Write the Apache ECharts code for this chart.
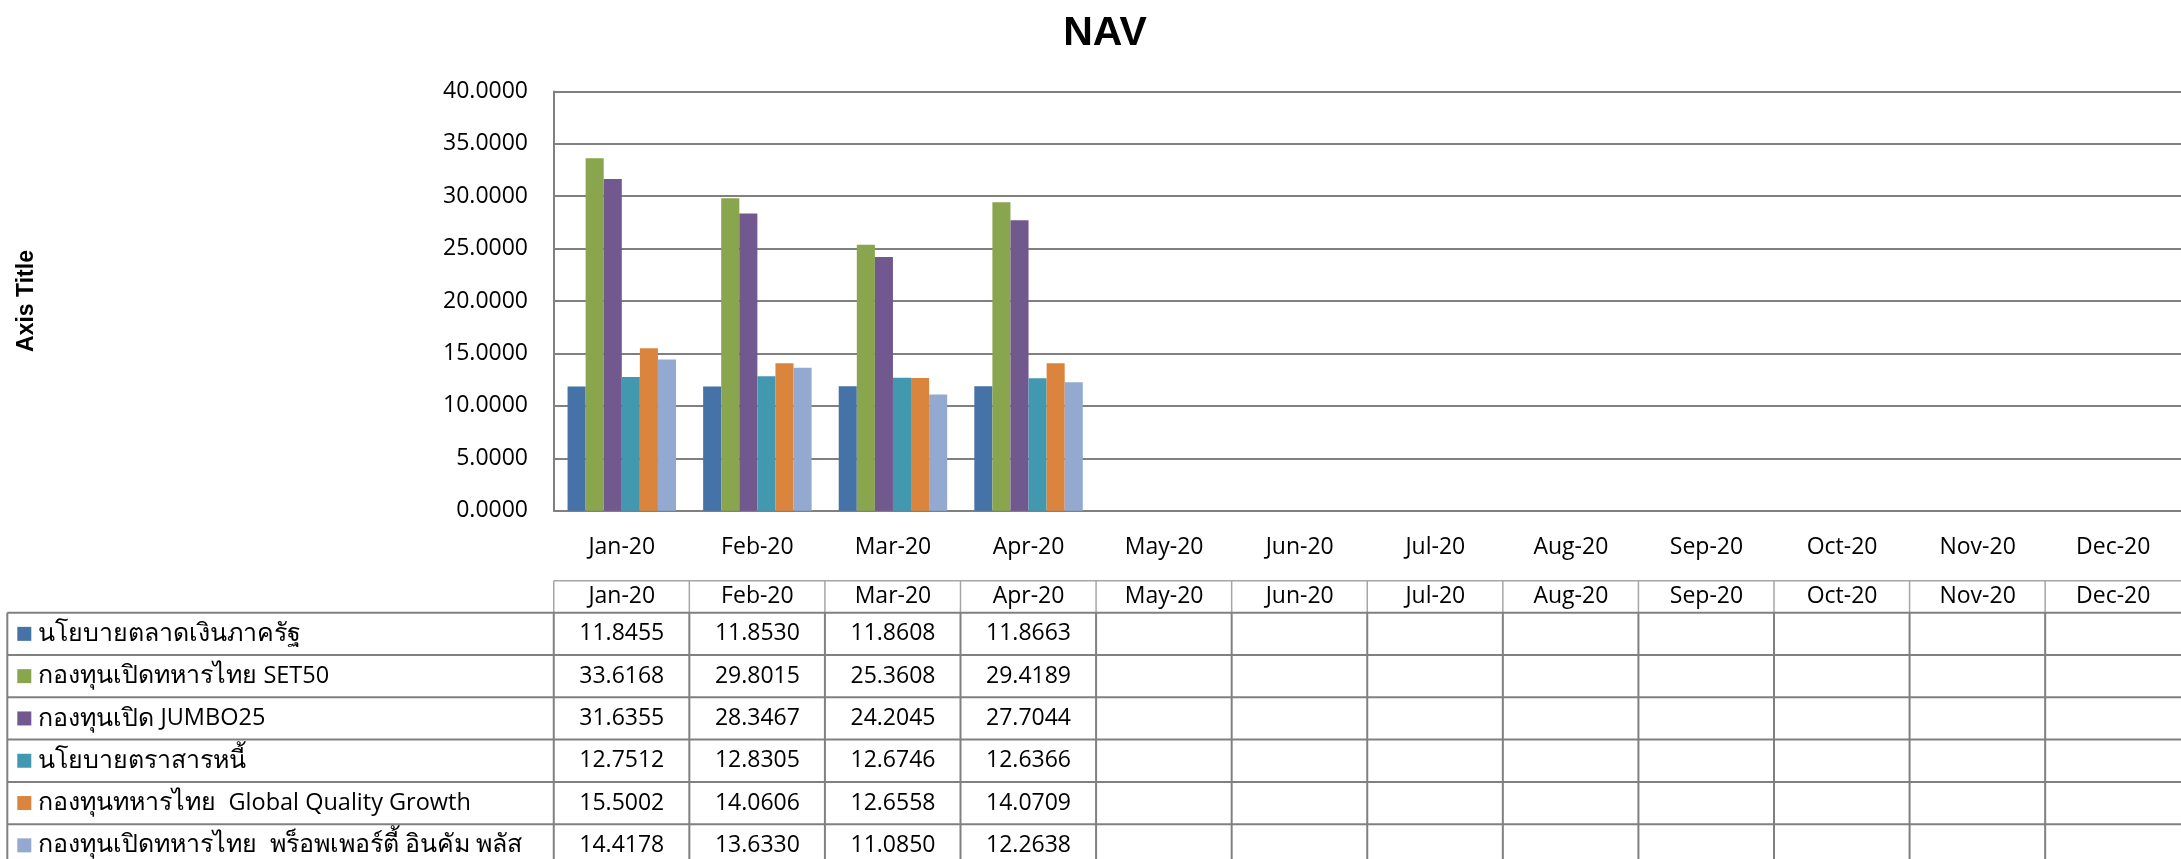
<!DOCTYPE html>
<html>
<head>
<meta charset="utf-8">
<title>NAV</title>
<script src="https://cdn.jsdelivr.net/npm/echarts@6/dist/echarts.min.js"></script>
<style>
  html, body { margin: 0; padding: 0; background: #fff; }
  #chart { width: 2181px; height: 859px; }
</style>
</head>
<body>
<div id="chart"></div>
<script>
// months on the category axis (only Jan-Apr have values)
var months = ['Jan-20', 'Feb-20', 'Mar-20', 'Apr-20', 'May-20', 'Jun-20',
              'Jul-20', 'Aug-20', 'Sep-20', 'Oct-20', 'Nov-20', 'Dec-20'];

var fundNames = [
    'นโยบายตลาดเงินภาครัฐ',
    'กองทุนเปิดทหารไทย SET50',
    'กองทุนเปิด JUMBO25',
    'นโยบายตราสารหนี้',
    'กองทุนทหารไทย  Global Quality Growth',
    'กองทุนเปิดทหารไทย  พร็อพเพอร์ตี้ อินคัม พลัส'
];

var moneyMarket   = [11.8455, 11.8530, 11.8608, 11.8663];
var set50         = [33.6168, 29.8015, 25.3608, 29.4189];
var jumbo25       = [31.6355, 28.3467, 24.2045, 27.7044];
var fixedIncome   = [12.7512, 12.8305, 12.6746, 12.6366];
var globalQuality = [15.5002, 14.0606, 12.6558, 14.0709];
var propertyPlus  = [14.4178, 13.6330, 11.0850, 12.2638];

var colors = ['#4572A7', '#89A54E', '#71588F', '#4198AF', '#DB843D', '#93A9CF'];

var allData = [moneyMarket, set50, jumbo25, fixedIncome, globalQuality, propertyPlus];
var font = "'Open Sans', 'Noto Sans', sans-serif";
var gridColor = '#808080';

var chart = echarts.init(document.getElementById('chart'));

var option = {
    animation: false,
    color: colors,
    title: {
        text: 'NAV',
        left: 1100,
        textAlign: 'center',
        top: 8,
        textStyle: {
            fontFamily: 'Liberation Sans, Arial, sans-serif',
            fontWeight: 'bold',
            fontSize: 41,
            color: '#000'
        }
    },
    grid: { left: 554, top: 91.4, width: 1633, height: 419.3 },
    xAxis: {
        type: 'category',
        data: months,
        axisLine: { lineStyle: { color: gridColor, width: 2 } },
        axisTick: { show: false },
        axisLabel: { color: '#000', fontSize: 23, fontFamily: font, margin: 25 }
    },
    yAxis: {
        type: 'value',
        min: 0,
        max: 40,
        interval: 5,
        axisLine: { show: true, lineStyle: { color: gridColor, width: 2 } },
        axisTick: { show: false },
        axisLabel: {
            color: '#000', fontSize: 23, fontFamily: font, margin: 26,
            formatter: function (v) { return v.toFixed(4); }
        },
        splitLine: { lineStyle: { color: gridColor, width: 2 } }
    },
    series: allData.map(function (d, i) {
        return {
            name: fundNames[i],
            type: 'bar',
            data: d,
            barGap: '0%',
            barCategoryGap: '20%'
        };
    })
};
chart.setOption(option);

// data table under the chart, columns lined up with the category axis
var catW = 1633 / months.length;
var headTop = 580.7, rowTop = 612.7, rowH = 42.3;
var tableLeft = 7.3;
var els = [];

function hline(x1, x2, y, color, w) {
    els.push({ type: 'line', shape: { x1: x1, y1: y, x2: x2, y2: y },
        style: { stroke: color || gridColor, lineWidth: w || 2 } });
}
function vline(x, y1, y2, color, w) {
    els.push({ type: 'line', shape: { x1: x, y1: y1, x2: x, y2: y2 },
        style: { stroke: color || gridColor, lineWidth: w || 2 } });
}

// Thai runs get a bigger size than the Latin runs so both look like the original
function richLabel(str) {
    var parts = str.match(/[\u0E00-\u0E7F]+|[^\u0E00-\u0E7F]+/g) || [];
    return parts.map(function (p) {
        return /[\u0E00-\u0E7F]/.test(p) ? '{th|' + p + '}' : '{la|' + p + '}';
    }).join('');
}

var centers = months.map(function (m, i) {
    return chart.convertToPixel({ xAxisIndex: 0 }, i);
});
var bottom = rowTop + rowH * fundNames.length;

// header
hline(centers[0] - catW / 2, 2181, headTop, '#a6a6a6', 1.5);
months.forEach(function (m, i) {
    vline(centers[i] - catW / 2, headTop, rowTop, '#a6a6a6', 1.5);
    els.push({ type: 'text', x: centers[i], y: (headTop + rowTop) / 2,
        style: { text: m, fill: '#000', font: '23px ' + font, align: 'center', verticalAlign: 'middle' } });
});

// body rows
for (var r = 0; r <= fundNames.length; r++) {
    hline(tableLeft, 2181, rowTop + r * rowH);
}
vline(tableLeft, rowTop, bottom);
months.forEach(function (m, i) {
    vline(centers[i] - catW / 2, rowTop, bottom);
});

fundNames.forEach(function (name, r) {
    var cy = rowTop + r * rowH + rowH / 2;
    els.push({ type: 'rect', shape: { x: 17.3, y: cy - 7, width: 14, height: 14 },
        style: { fill: colors[r] } });
    els.push({ type: 'text', x: 38.3, y: cy,
        style: {
            text: richLabel(name), fill: '#000', align: 'left', verticalAlign: 'middle',
            rich: {
                th: { fontSize: 25, fontFamily: font, fill: '#000' },
                la: { fontSize: 23.5, fontFamily: font, fill: '#000' }
            }
        } });
    allData[r].forEach(function (v, i) {
        els.push({ type: 'text', x: centers[i], y: cy,
            style: { text: v.toFixed(4), fill: '#000', font: '23px ' + font, align: 'center', verticalAlign: 'middle' } });
    });
});

// vertical axis title
els.push({ type: 'text', x: 27, y: 301, rotation: Math.PI / 2,
    style: { text: 'Axis Title', fill: '#000', font: 'bold 23px Liberation Sans, Arial, sans-serif',
        align: 'center', verticalAlign: 'middle' } });

chart.setOption({ graphic: { elements: els } });
</script>
</body>
</html>
